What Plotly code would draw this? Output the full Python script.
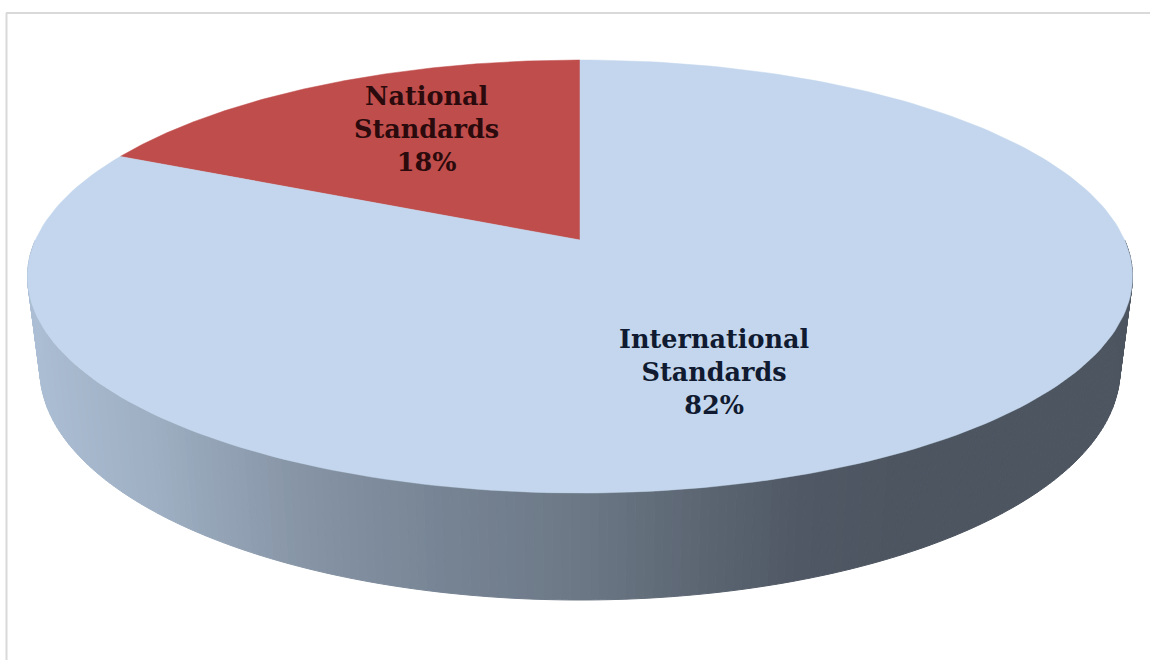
import numpy as np
import plotly.graph_objects as go

categories = ["National<br>Standards", "International<br>Standards"]
shares = [18, 82]
share_labels = ["18%", "82%"]
slice_colors = ["#bf4d4b", "#c3d6ed"]
label_colors = ["#2a0a0c", "#101a30"]
label_positions = [(426, 129), (714, 372)]

WALL_STOP_X = [27, 150, 300, 450, 580, 700, 800, 900, 1132]
WALL_STOP_RGB = [(172, 190, 212), (158, 175, 195), (134, 148, 165), (118, 131, 147),
                 (108, 120, 134), (92, 102, 115), (80, 88, 101), (77, 85, 97), (77, 85, 97)]

CX, TOP_CY, TOP_RX, TOP_RY = 580, 276.5, 552.5, 216.5
BOT_CY, BOT_RX, BOT_RY = 370, 540, 230
K = (276.5 - 240) / 216.5  # perspective shift of the pie centre


def rim(theta, cy=TOP_CY, rx=TOP_RX, ry=TOP_RY):
    """theta: clockwise from the top of the rim, in radians, true pie angle."""
    u, v = np.sin(theta), np.cos(theta)
    d = 1 + K * v
    return CX + rx * u * np.sqrt(1 - K * K) / d, cy - ry * (v + K) / d


fig = go.Figure()

# side wall: thin strips following the front half of the rim
edges = np.linspace(np.pi / 2, 3 * np.pi / 2, 221)
for a, b in zip(edges[:-1], edges[1:]):
    xt, yt = rim(np.array([a, b]))
    xb, yb = rim(np.array([a, b]), BOT_CY, BOT_RX, BOT_RY)
    mid = (xt[0] + xt[1]) / 2
    rgb = [np.interp(mid, WALL_STOP_X, [c[i] for c in WALL_STOP_RGB]) for i in range(3)]
    col = "rgb({:.0f},{:.0f},{:.0f})".format(*rgb)
    fig.add_trace(go.Scatter(
        x=[xt[0], xt[1], xb[1], xb[0], xt[0]], y=[yt[0], yt[1], yb[1], yb[0], yt[0]],
        mode="lines", fill="toself", fillcolor=col, line=dict(color=col, width=1),
        hoverinfo="skip", showlegend=False))

# top face: slices drawn counter-clockwise from 12 o'clock
total = sum(shares)
start = 0.0
for share, color, cat in zip(shares, slice_colors, categories):
    span = 2 * np.pi * share / total
    t = -np.linspace(start, start + span, 240)
    xs, ys = rim(t)
    ax, ay = CX, TOP_CY - TOP_RY * K
    fig.add_trace(go.Scatter(
        x=[ax, *xs, ax], y=[ay, *ys, ay], mode="lines", fill="toself", fillcolor=color,
        line=dict(color=color, width=0.5), name=cat.replace("<br>", " "),
        hoverinfo="name", showlegend=False))
    start += span

for cat, pct, col, (lx, ly) in zip(categories, share_labels, label_colors, label_positions):
    fig.add_annotation(x=lx, y=ly, text=f"{cat}<br>{pct}", showarrow=False,
                       xanchor="center", yanchor="middle", align="center",
                       font=dict(family="DejaVu Serif", size=25.5, color=col, weight="bold"))

fig.add_shape(type="line", xref="x", yref="y", x0=6.5, x1=6.5, y0=13, y1=660,
              line=dict(color="#d9d9d9", width=2))
fig.add_shape(type="line", xref="x", yref="y", x0=6, x1=1150, y0=13, y1=13,
              line=dict(color="#d9d9d9", width=2))

fig.update_xaxes(range=[0, 1150], visible=False, fixedrange=True)
fig.update_yaxes(range=[660, 0], visible=False, fixedrange=True)
fig.update_layout(width=1150, height=660, margin=dict(l=0, r=0, t=0, b=0),
                  paper_bgcolor="white", plot_bgcolor="white", showlegend=False)
fig.write_html("out.html", config={"displayModeBar": False},
               post_script="document.body.style.margin='0';")
